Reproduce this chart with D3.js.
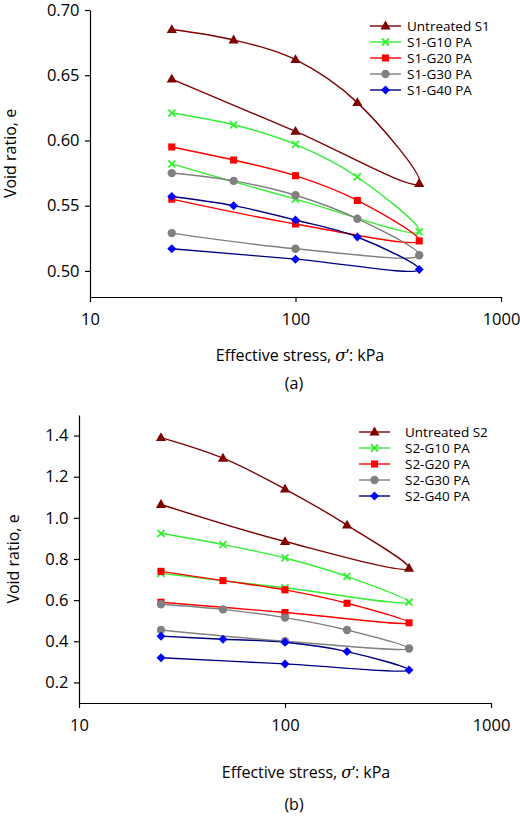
<!DOCTYPE html>
<html><head><meta charset="utf-8">
<script src="https://cdn.jsdelivr.net/npm/d3@7"></script>
<style>body{margin:0;background:#fff}text{font-family:"Open Sans",sans-serif}</style>
</head><body><svg id="c" width="520" height="816"></svg>
<script>
var stress = [25, 50, 100, 200, 400, 100, 25];
var namesA = ["Untreated S1", "S1-G10 PA", "S1-G20 PA", "S1-G30 PA", "S1-G40 PA"];
var namesB = ["Untreated S2", "S2-G10 PA", "S2-G20 PA", "S2-G30 PA", "S2-G40 PA"];
var valsA = [
  [0.685, 0.677, 0.662, 0.629, 0.567, 0.607, 0.647],
  [0.621, 0.612, 0.597, 0.572, 0.530, 0.555, 0.582],
  [0.595, 0.585, 0.573, 0.554, 0.523, 0.536, 0.555],
  [0.575, 0.569, 0.558, 0.540, 0.512, 0.517, 0.529],
  [0.557, 0.550, 0.539, 0.526, 0.501, 0.509, 0.517]
];
var valsB = [
  [1.39, 1.29, 1.14, 0.965, 0.755, 0.885, 1.065],
  [0.925, 0.87, 0.805, 0.715, 0.59, 0.66, 0.73],
  [0.74, 0.695, 0.65, 0.585, 0.49, 0.54, 0.59],
  [0.58, 0.555, 0.515, 0.455, 0.365, 0.40, 0.455],
  [0.425, 0.41, 0.395, 0.35, 0.26, 0.29, 0.32]
];
var ticksA = [0.50, 0.55, 0.60, 0.65, 0.70];
var ticksB = [0.2, 0.4, 0.6, 0.8, 1.0, 1.2, 1.4];
var lineCol = ["#800000", "#33ee33", "#ff0000", "#808080", "#000080"];
var markCol = ["#800000", "#33ee33", "#ff0000", "#808080", "#0000ff"];
var markers = ["tri", "x", "sq", "circ", "dia"];

var svg = d3.select("#c");

function marker(g, kind, x, y, col) {
  if (kind == "x") {
    g.append("path").attr("d", "M" + (x - 3.5) + "," + (y - 3.5) + "L" + (x + 3.5) + "," + (y + 3.5) + "M" + (x - 3.5) + "," + (y + 3.5) + "L" + (x + 3.5) + "," + (y - 3.5))
      .attr("stroke", col).attr("stroke-width", 1.8);
    return;
  }
  if (kind == "dia") {
    g.append("path").attr("d", "M" + x + "," + (y - 4.5) + "L" + (x + 4.5) + "," + y + "L" + x + "," + (y + 4.5) + "L" + (x - 4.5) + "," + y + "Z")
      .attr("fill", col);
    return;
  }
  var sym = {tri: d3.symbolTriangle, sq: d3.symbolSquare, circ: d3.symbolCircle}[kind];
  var size = {tri: 45, sq: 50, circ: 55}[kind];
  g.append("path").attr("d", d3.symbol().type(sym).size(size)())
    .attr("transform", "translate(" + x + "," + (kind == "tri" ? y + 0.5 : y) + ")").attr("fill", col);
}

function panel(o) {
  var x = d3.scaleLog().domain([10, 1000]).range([o.left, o.right]);
  var y = d3.scaleLinear().domain(o.ydom).range([o.bottom, o.top]);
  var g = svg.append("g");
  g.append("g").attr("transform", "translate(0," + o.bottom + ")")
    .call(d3.axisBottom(x).tickValues([10, 100, 1000]).tickFormat(d3.format("d")).tickSize(5).tickSizeOuter(0))
    .call(function (a) { a.selectAll("text").attr("font-size", 16.5).attr("dy", "1.2em"); });
  g.append("g").attr("transform", "translate(" + o.left + ",0)")
    .call(d3.axisLeft(y).tickValues(o.ticks).tickFormat(d3.format(o.fmt)).tickSize(5).tickSizeOuter(0))
    .call(function (a) { a.selectAll("text").attr("font-size", 16.5).attr("dx", "-0.15em"); });
  g.selectAll(".domain,.tick line").attr("stroke", "#000").attr("stroke-width", 1.2);

  var line = d3.line().x(function (d) { return x(d[0]); }).y(function (d) { return y(d[1]); })
    .curve(d3.curveCatmullRom.alpha(0.5));
  o.vals.forEach(function (v, i) {
    var pts = stress.map(function (s, j) { return [s, v[j]]; });
    g.append("path").attr("d", line(pts)).attr("fill", "none").attr("stroke", lineCol[i]).attr("stroke-width", 1.4);
    pts.forEach(function (p) { marker(g, markers[i], x(p[0]), y(p[1]), markCol[i]); });
    var ly = o.legY + i * 16;
    g.append("line").attr("x1", o.legX).attr("x2", o.legX + 31).attr("y1", ly).attr("y2", ly)
      .attr("stroke", lineCol[i]).attr("stroke-width", 1.4);
    marker(g, markers[i], o.legX + 15.5, ly, markCol[i]);
    g.append("text").attr("x", o.legTx).attr("y", ly + 5).attr("font-size", 13.5).text(o.names[i]);
  });

  g.append("text").attr("transform", "translate(" + o.yTitleX + "," + ((o.top + o.bottom) / 2) + ") rotate(-90)")
    .attr("text-anchor", "middle").attr("font-size", 16).text("Void ratio, e");
  var t = g.append("text").attr("x", o.xTitleX).attr("y", o.xTitleY).attr("text-anchor", "middle").attr("font-size", 16);
  t.append("tspan").text("Effective stress, ");
  t.append("tspan").attr("font-style", "italic").attr("font-family", "DejaVu Serif").text("σ");
  t.append("tspan").text("’: kPa");
  g.append("text").attr("x", 294).attr("y", o.labY).attr("text-anchor", "middle").attr("font-size", 16).text(o.lab);
}

panel({left: 90, right: 501, top: 10, bottom: 297, ydom: [0.48, 0.70], ticks: ticksA, fmt: ".2f",
  vals: valsA, names: namesA, legX: 370, legTx: 407, legY: 26, yTitleX: 16, xTitleX: 300, xTitleY: 361, labY: 389, lab: "(a)"});
panel({left: 79, right: 491, top: 415, bottom: 703, ydom: [0.1, 1.5], ticks: ticksB, fmt: ".1f",
  vals: valsB, names: namesB, legX: 359, legTx: 405, legY: 432, yTitleX: 19, xTitleX: 306, xTitleY: 778, labY: 810, lab: "(b)"});
</script></body></html>
